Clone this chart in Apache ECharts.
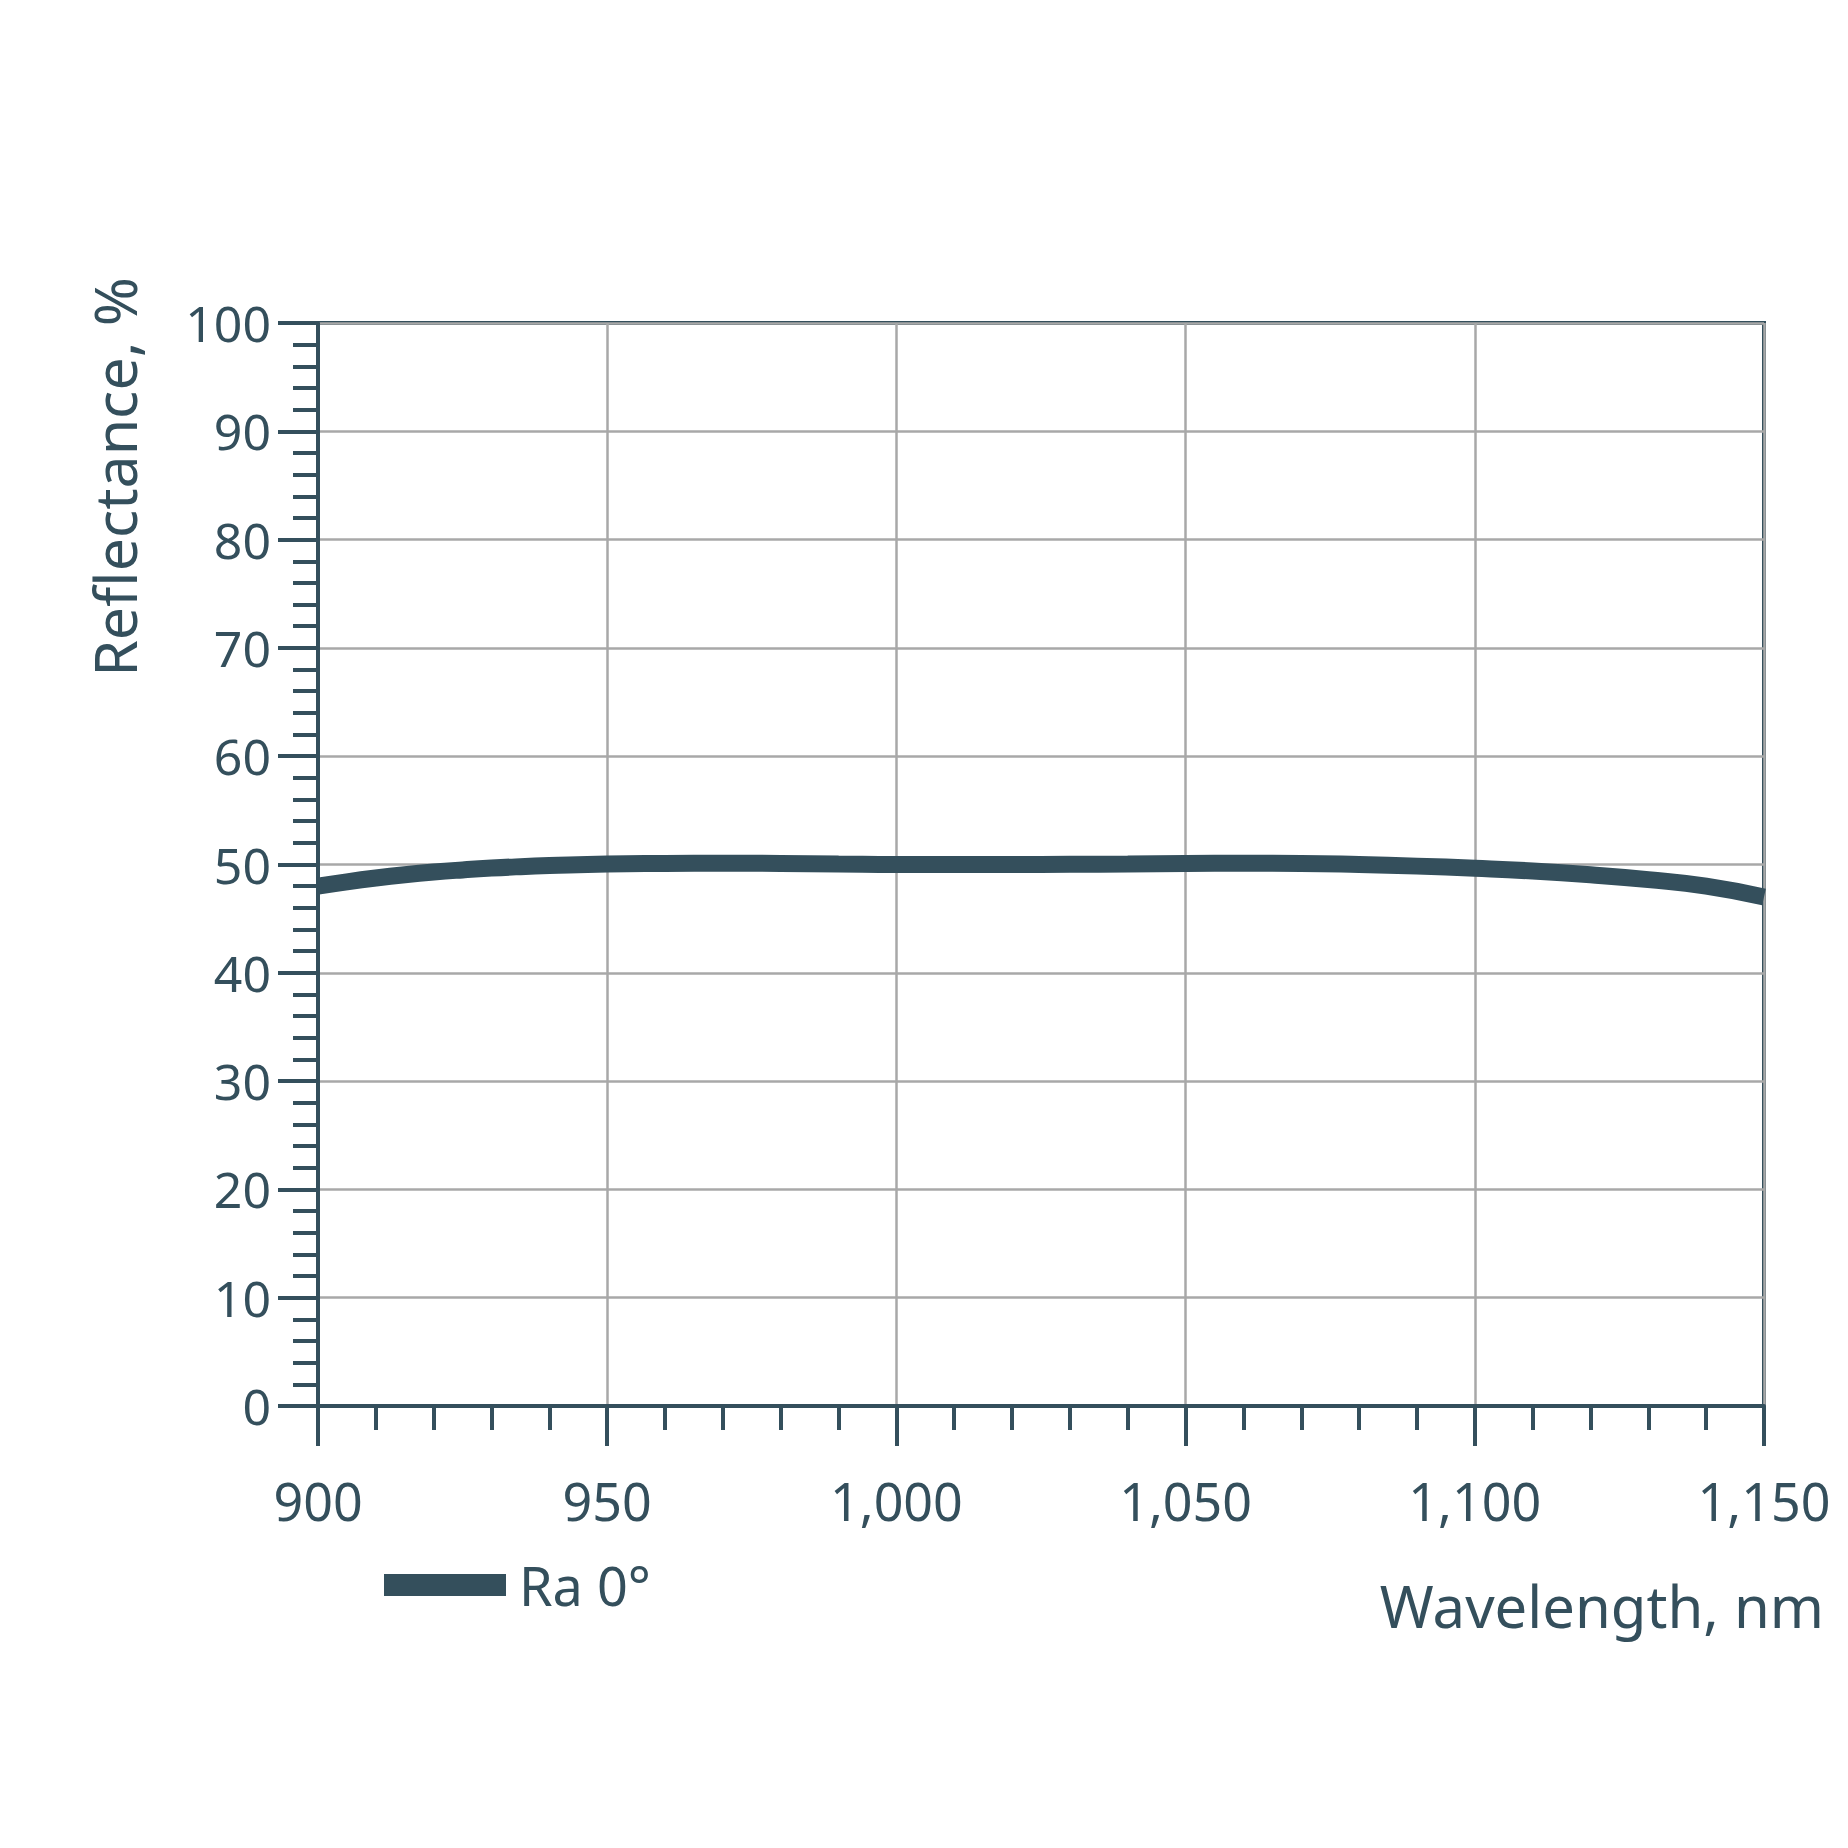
<!DOCTYPE html>
<html>
<head>
<meta charset="utf-8">
<script src="https://cdn.jsdelivr.net/npm/echarts@6/dist/echarts.min.js"></script>
<style>
  html, body { margin: 0; padding: 0; background: #fff; }
  #chart { width: 1848px; height: 1848px; }
</style>
</head>
<body>
<div id="chart"></div>
<script>
// wavelength (nm) and reflectance (%)
const wavelengths = [900, 905, 910, 915, 920, 925, 930, 935, 940, 950, 960, 970, 980, 990, 1000,
  1010, 1020, 1030, 1040, 1050, 1060, 1070, 1080, 1090, 1100, 1110, 1120, 1130, 1140, 1150]
const reflectance = [48.0, 48.4, 48.75, 49.05, 49.3, 49.5, 49.67, 49.8, 49.9, 50.05, 50.1, 50.12, 50.1, 50.05, 50.0,
  50.0, 50.0, 50.02, 50.05, 50.1, 50.12, 50.1, 50.0, 49.85, 49.65, 49.4, 49.05, 48.6, 48.0, 47.0]
const seriesName = 'Ra 0°'
const xTitle = 'Wavelength, nm'
const yTitle = 'Reflectance, %'

const dark = '#344f5c'
const font = 'Noto Sans'

const chart = echarts.init(document.getElementById('chart'), null, { renderer: 'svg' })

chart.setOption({
  backgroundColor: '#fff',
  animation: false,
  grid: {
    left: 318, right: 1848 - 1764, top: 323, bottom: 1848 - 1406,
    show: true, borderColor: dark, borderWidth: 4, containLabel: false
  },
  legend: {
    left: 379, top: 1553,
    icon: 'rect', itemWidth: 122, itemHeight: 22,
    textStyle: { color: dark, fontSize: 54, fontFamily: font, padding: [0, 0, 0, 8] },
    data: [seriesName]
  },
  xAxis: {
    type: 'value', min: 900, max: 1150, interval: 50,
    axisLine: { lineStyle: { color: dark, width: 4 } },
    axisTick: { show: true, length: 40, lineStyle: { color: dark, width: 4 } },
    minorTick: { show: true, splitNumber: 5, length: 24, lineStyle: { color: dark, width: 4 } },
    axisLabel: {
      margin: 68, color: dark, fontSize: 52, fontFamily: font,
      formatter: v => v.toLocaleString('en-US')
    },
    splitLine: { show: true, lineStyle: { color: '#a8a8a8', width: 2.5 } }
  },
  yAxis: {
    type: 'value', min: 0, max: 100, interval: 10,
    axisLine: { show: true, lineStyle: { color: dark, width: 4 } },
    axisTick: { show: true, length: 40, lineStyle: { color: dark, width: 4 } },
    minorTick: { show: true, splitNumber: 5, length: 25, lineStyle: { color: dark, width: 4 } },
    axisLabel: { margin: 47, color: dark, fontSize: 50, fontFamily: font },
    splitLine: { show: true, lineStyle: { color: '#a8a8a8', width: 2.5 } }
  },
  graphic: [
    {
      type: 'text', x: 114, y: 477, rotation: Math.PI / 2,
      style: { text: yTitle, fill: dark, fontSize: 59, fontFamily: font, align: 'center', verticalAlign: 'middle' }
    },
    {
      type: 'text', x: 1824, y: 1605,
      style: { text: xTitle, fill: dark, fontSize: 58, fontFamily: font, align: 'right', verticalAlign: 'middle' }
    }
  ],
  series: [{
    name: seriesName,
    type: 'line',
    smooth: true,
    symbol: 'none',
    clip: true,
    data: wavelengths.map((w, i) => [w, reflectance[i]]),
    lineStyle: { color: dark, width: 17, cap: 'butt' },
    itemStyle: { color: dark }
  }]
})
</script>
</body>
</html>
